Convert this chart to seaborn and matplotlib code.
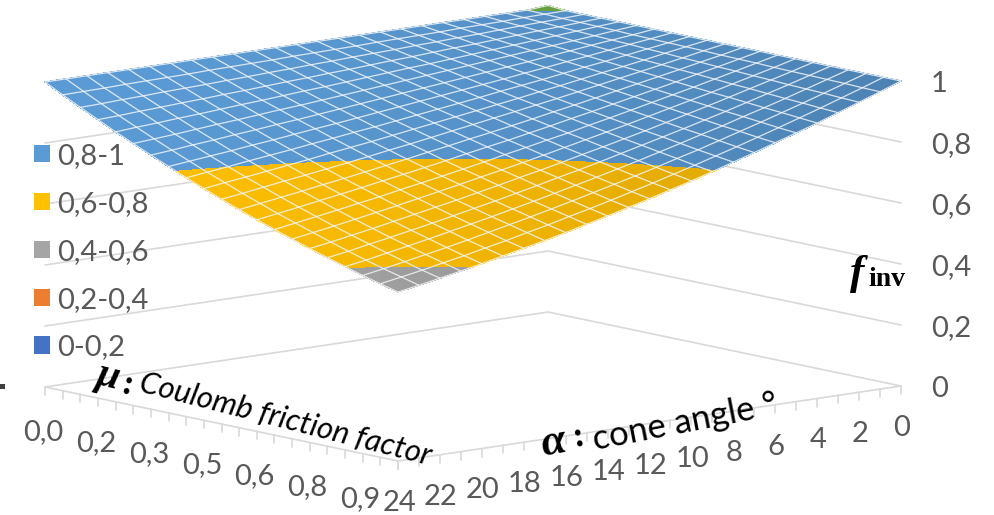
import numpy as np
import pandas as pd
import seaborn as sns
import matplotlib.pyplot as plt
from matplotlib.patches import Patch, Polygon, Rectangle

sns.set_theme(style='white')
plt.rcParams['font.family'] = ['Lato', 'DejaVu Sans']

#### data
alpha = list(range(25))
mu = [0.0, 0.05, 0.10, 0.15, 0.20, 0.25, 0.30, 0.35, 0.40, 0.45, 0.50,
      0.55, 0.60, 0.65, 0.70, 0.75, 0.80, 0.85, 0.90, 0.95, 1.0]

# one row per alpha, one column per mu
finv = [
    [1.005, 1, 1, 1, 1, 1, 1, 1, 1, 1, 1, 1, 1, 1, 1, 1, 1, 1, 1, 1, 1],
    [1, .999, .997, .996, .995, .994, .992, .991, .990, .989, .988, .986, .985, .984, .982, .981, .980, .979, .978, .976, .975],
    [1, .998, .995, .992, .990, .987, .985, .983, .980, .978, .975, .973, .970, .968, .965, .963, .960, .958, .956, .953, .951],
    [1, .996, .993, .989, .985, .981, .978, .974, .970, .966, .963, .959, .956, .952, .948, .945, .941, .937, .934, .930, .927],
    [1, .995, .990, .985, .980, .975, .970, .965, .960, .955, .951, .946, .941, .936, .931, .927, .922, .917, .913, .908, .903],
    [1, .994, .987, .981, .975, .969, .963, .957, .951, .945, .939, .933, .927, .921, .915, .909, .903, .898, .892, .886, .881],
    [1, .992, .985, .977, .970, .963, .955, .948, .941, .934, .927, .920, .913, .906, .899, .892, .885, .878, .872, .865, .859],
    [1, .991, .982, .974, .965, .957, .948, .940, .931, .923, .915, .907, .899, .891, .883, .875, .867, .860, .852, .844, .837],
    [1, .990, .980, .970, .960, .951, .941, .931, .922, .913, .903, .894, .885, .876, .867, .858, .850, .841, .832, .824, .816],
    [1, .989, .977, .966, .955, .945, .934, .923, .913, .902, .892, .882, .872, .862, .852, .842, .833, .823, .814, .804, .795],
    [1, .987, .975, .963, .951, .939, .927, .915, .903, .892, .881, .869, .858, .847, .837, .826, .816, .805, .795, .785, .775],
    [1, .986, .973, .959, .946, .933, .920, .907, .894, .882, .870, .857, .845, .834, .822, .811, .799, .788, .777, .766, .756],
    [1, .985, .970, .955, .941, .927, .913, .899, .885, .872, .859, .845, .832, .820, .807, .795, .783, .771, .760, .748, .737],
    [1, .984, .968, .952, .936, .921, .906, .891, .876, .862, .848, .834, .820, .807, .793, .780, .768, .755, .743, .730, .719],
    [1, .982, .965, .948, .931, .915, .899, .883, .867, .852, .837, .822, .808, .793, .779, .766, .752, .739, .726, .713, .701],
    [1, .981, .963, .945, .927, .909, .892, .875, .858, .842, .826, .811, .795, .780, .766, .751, .737, .723, .710, .697, .684],
    [1, .980, .960, .941, .922, .903, .885, .867, .850, .832, .816, .799, .783, .767, .752, .737, .722, .708, .694, .680, .667],
    [1, .979, .958, .937, .917, .898, .878, .860, .841, .823, .805, .788, .771, .755, .739, .723, .708, .693, .679, .665, .651],
    [1, .977, .955, .934, .913, .892, .872, .852, .833, .814, .795, .777, .760, .743, .726, .710, .694, .679, .664, .649, .636],
    [1, .976, .953, .930, .908, .886, .865, .844, .824, .804, .785, .766, .748, .730, .713, .697, .680, .665, .649, .635, .621],
    [1, .975, .951, .927, .903, .881, .859, .837, .816, .795, .775, .756, .737, .719, .701, .684, .667, .651, .635, .620, .606],
    [1, .974, .948, .923, .899, .875, .852, .829, .808, .786, .766, .745, .726, .707, .689, .671, .654, .638, .622, .607, .592],
    [1, .972, .946, .920, .894, .869, .846, .822, .799, .777, .756, .735, .715, .696, .677, .659, .642, .625, .609, .593, .579],
    [1, .971, .943, .916, .890, .864, .839, .815, .791, .769, .746, .725, .704, .685, .666, .647, .629, .612, .596, .581, .566],
    [1, .970, .941, .913, .885, .859, .833, .808, .783, .760, .737, .715, .694, .674, .655, .636, .618, .601, .584, .569, .554],
]

z_levels = [0, 0.2, 0.4, 0.6, 0.8, 1.0]
z_labels = ['0', '0,2', '0,4', '0,6', '0,8', '1']
mu_ticks = [0.0, 0.15, 0.30, 0.45, 0.60, 0.75, 0.90]
mu_labels = ['0,0', '0,2', '0,3', '0,5', '0,6', '0,8', '0,9']
alpha_ticks = list(range(0, 25, 2))
alpha_labels = [str(a) for a in alpha_ticks]
band_labels = ['0,8-1', '0,6-0,8', '0,4-0,6', '0,2-0,4', '0-0,2']
band_colors = ['#5B9BD5', '#FFC000', '#A5A5A5', '#ED7D31', '#4472C4']

GRID = '#D9D9D9'
TXT = '#595959'
FS = 21


def proj(a, m, z=0.0):
    # excel's 3d view is close to an oblique projection
    s = np.asarray(a) / 24.0
    t = np.asarray(m) / 1.0
    x = 548 + 353 * t - 503 * s
    y = 312 + 74 * t + 75 * s - 305 * np.asarray(z)
    return x, y


def lines(frame):
    sns.lineplot(data=frame, x='x', y='y', units='id', estimator=None, sort=False,
                 color=frame.attrs['color'], linewidth=frame.attrs['lw'],
                 alpha=frame.attrs.get('alpha', 1), legend=False, ax=ax, zorder=frame.attrs['z'])


fig = plt.figure(figsize=(9.95, 5.15), dpi=100)
ax = fig.add_axes([0, 0, 1, 1])

#### walls and floor
rows = []
for i, lev in enumerate(z_levels):
    for a, m in [(24, 0), (0, 0), (0, 1)]:
        x, y = proj(a, m, lev)
        rows.append({'x': float(x), 'y': float(y), 'id': i})
walls = pd.DataFrame(rows)
walls.attrs.update(color=GRID, lw=1.2, z=1)
lines(walls)

#### front axes and ticks
rows = []
for a, m, i in [(24, 0, 0), (24, 1, 0), (0, 1, 0)]:
    x, y = proj(a, m)
    rows.append({'x': float(x), 'y': float(y), 'id': i})
n = 1
for m in mu:
    x, y = proj(24, m)
    rows += [{'x': float(x), 'y': float(y), 'id': n}, {'x': float(x), 'y': float(y) + 8, 'id': n}]
    n += 1
for a in alpha:
    x, y = proj(a, 1)
    rows += [{'x': float(x), 'y': float(y), 'id': n}, {'x': float(x), 'y': float(y) + 8, 'id': n}]
    n += 1
axes_df = pd.DataFrame(rows)
axes_df.attrs.update(color=GRID, lw=1.2, z=1)
lines(axes_df)

#### surface
A, M = np.meshgrid(alpha, mu, indexing='ij')
Z = np.array(finv)
X, Y = proj(A, M, Z)
cs = ax.contourf(X, Y, Z, levels=[0, 0.2, 0.4, 0.6, 0.8, 1.0, 1.2],
                 colors=['#4472C4', '#ED7D31', '#A5A5A5', '#FFC000', '#5B9BD5', '#70AD47'],
                 zorder=2)
cs.set_edgecolor('face')
cs.set_linewidth(0.3)

# the shading of the surface gets darker to the right
edge = np.vstack([np.c_[X[0, :], Y[0, :]], np.c_[X[:, -1], Y[:, -1]],
                  np.c_[X[-1, ::-1], Y[-1, ::-1]], np.c_[X[::-1, 0], Y[::-1, 0]]])
outline = Polygon(edge, closed=True, transform=ax.transData, fc='none', ec='none')
ax.add_patch(outline)
shade = np.zeros((1, 256, 4))
shade[0, :, 3] = 0.16 * np.linspace(0, 1, 256) ** 1.5
im = ax.imshow(shade, extent=[45, 901, 300, 0], aspect='auto', zorder=3, interpolation='bilinear')
im.set_clip_path(outline)

rows = []
for i, a in enumerate(alpha):
    x, y = proj(a, np.array(mu), Z[i, :])
    rows += [{'x': p, 'y': q, 'id': i} for p, q in zip(x, y)]
for j, m in enumerate(mu):
    x, y = proj(np.array(alpha), m, Z[:, j])
    rows += [{'x': p, 'y': q, 'id': 100 + j} for p, q in zip(x, y)]
mesh = pd.DataFrame(rows)
mesh.attrs.update(color='#F2F5F8', lw=0.9, alpha=0.85, z=4)
lines(mesh)

#### tick labels
for lev, lab in zip(z_levels, z_labels):
    x, y = proj(0, 1, lev)
    ax.text(x + 30, y + 3, lab, fontsize=FS, color=TXT, ha='left', va='center')
for m, lab in zip(mu_ticks, mu_labels):
    x, y = proj(24, m)
    ax.text(x - 2, y + 45, lab, fontsize=FS, color=TXT, ha='center', va='center')
for a, lab in zip(alpha_ticks, alpha_labels):
    x, y = proj(a, 1)
    ax.text(x + 1, y + 42, lab, fontsize=FS, color=TXT, ha='center', va='center')

#### axis titles
ax.text(108, 377, 'μ', fontsize=29, family='Liberation Serif', weight='bold', style='italic',
        color='black', rotation=-14, rotation_mode='anchor', ha='center', va='center')
ax.text(127, 386, ':', fontsize=25, family='Liberation Serif', weight='bold',
        color='black', rotation=-14, rotation_mode='anchor', ha='center', va='center')
ax.text(140, 382, 'Coulomb friction factor', fontsize=22.3, style='italic', color='black',
        rotation=-14.3, rotation_mode='anchor', ha='left', va='center')
ax.text(553, 443, 'α', fontsize=32, family='Liberation Serif', weight='bold', style='italic',
        color='black', rotation=11, rotation_mode='anchor', ha='center', va='center')
ax.text(578, 438, ':', fontsize=25, family='Liberation Serif', weight='bold',
        color='black', rotation=11, rotation_mode='anchor', ha='center', va='center')
ax.text(593, 440, 'cone angle °', fontsize=25, color='black',
        rotation=11, rotation_mode='anchor', ha='left', va='center')
ax.text(857, 274, 'f', fontsize=31, family='Liberation Serif', weight='bold', style='italic',
        color='black', ha='center', va='center')
ax.text(868, 280, 'inv', fontsize=20, family='Liberation Serif', weight='bold',
        color='black', ha='left', va='center')

#### bits cut off in the source
ax.add_patch(Rectangle((0, 384), 5, 5, color='#404040', lw=0))
ax.text(321, -8, 'g', fontsize=19, color='black', ha='center', va='baseline')

#### legend
handles = [Patch(facecolor=c, edgecolor='none', label=l) for c, l in zip(band_colors, band_labels)]
ax.legend(handles=handles, loc='upper left', bbox_to_anchor=(34 / 995, 1 - 143 / 515), frameon=False,
          fontsize=FS, labelcolor=TXT, handlelength=0.55, handleheight=0.55, handletextpad=0.24,
          labelspacing=0.75, borderpad=0, borderaxespad=0)

ax.set_xlim(0, 995)
ax.set_ylim(515, 0)
ax.set_xlabel('')
ax.set_ylabel('')
ax.axis('off')

fig.savefig('out.png', dpi=100)
